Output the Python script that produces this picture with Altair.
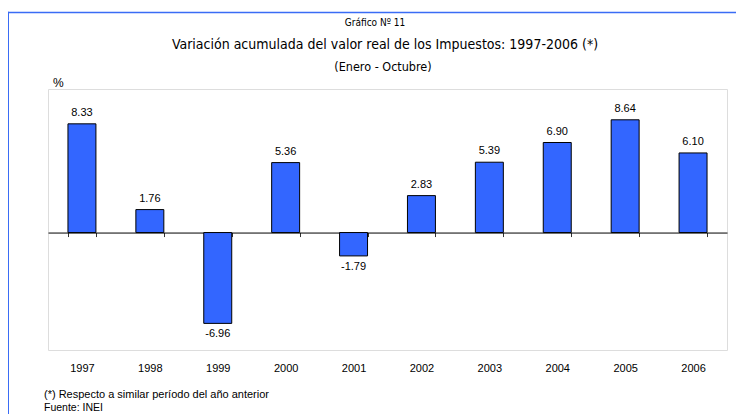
import altair as alt
import pandas as pd

years = ["1997", "1998", "1999", "2000", "2001", "2002", "2003", "2004", "2005", "2006"]
values = [8.33, 1.76, -6.96, 5.36, -1.79, 2.83, 5.39, 6.90, 8.64, 6.10]
labels = ["8.33", "1.76", "-6.96", "5.36", "-1.79", "2.83", "5.39", "6.90", "8.64", "6.10"]

title_top = "Gráfico Nº 11"
title_main = "Variación acumulada del valor real de los Impuestos: 1997-2006 (*)"
subtitle = "(Enero - Octubre)"
unit = "%"
note = "(*) Respecto a similar período del año anterior"
source = "Fuente: INEI"

W, H = 679, 261
Y_DOMAIN = [-9, 11]
FONT = "Liberation Sans, Arial, Helvetica, sans-serif"
NARROW = "DejaVu Sans Condensed, Arial Narrow, sans-serif"

df = pd.DataFrame({"year": years, "value": values, "label": labels})
zero_offset = -(0 - Y_DOMAIN[0]) / (Y_DOMAIN[1] - Y_DOMAIN[0]) * H

x = alt.X(
    "year:N",
    sort=years,
    scale=alt.Scale(paddingInner=0.588, paddingOuter=0.294),
    axis=alt.Axis(
        title=None, labelAngle=0, offset=zero_offset,
        domainColor="black", domainWidth=1,
        tickColor="#333333", tickSize=4, tickBand="extent",
        labelPadding=126, labelFont=FONT, labelFontSize=11, labelColor="black",
    ),
)
y = alt.Y("value:Q", scale=alt.Scale(domain=Y_DOMAIN, nice=False), axis=None)

base = alt.Chart(df)
bars = base.mark_bar(color="#3366ff", stroke="black", strokeWidth=1).encode(x=x, y=y)
pos = base.transform_filter("datum.value >= 0").mark_text(
    baseline="bottom", dy=-6, font=FONT, fontSize=11, color="black"
).encode(x=x, y=y, text="label:N")
neg = base.transform_filter("datum.value < 0").mark_text(
    baseline="top", dy=5, font=FONT, fontSize=11, color="black"
).encode(x=x, y=y, text="label:N")


def txt(s, px, py, size, font=FONT, align="center", weight="normal"):
    return alt.Chart(pd.DataFrame({"t": [s]})).mark_text(
        align=align, baseline="middle", font=font, fontSize=size,
        fontWeight=weight, color="black"
    ).encode(x=alt.value(px), y=alt.value(py), text="t:N")


frame_top = alt.Chart(pd.DataFrame({"a": [0]})).mark_rule(
    color="#3a6cf5", strokeWidth=1.6
).encode(x=alt.value(-40), x2=alt.value(W + 9), y=alt.value(-76.5))
frame_left = alt.Chart(pd.DataFrame({"a": [0]})).mark_rule(
    color="#3a6cf5", strokeWidth=1.6
).encode(x=alt.value(-39.8), y=alt.value(-77.3), y2=alt.value(H + 64))

chart = alt.layer(
    frame_top, frame_left,
    bars, pos, neg,
    txt(title_top, 327, -66.5, 10, font=NARROW),
    txt(title_main, 337, -44, 14, font=NARROW),
    txt(subtitle, 335, -22, 12.5, font=NARROW),
    txt(unit, 5, -6, 12, align="left"),
    txt(note, -4, 306, 11, align="left"),
    txt(source, -4, 319, 10.5, align="left"),
).properties(
    width=W, height=H,
    autosize=alt.AutoSizeParams(type="none"),
    padding={"left": 40, "top": 81, "right": 9, "bottom": 64},
).configure_view(
    stroke="#999999", strokeWidth=2
).configure(background="white")

chart.save("out.html", embed_options={"renderer": "svg", "actions": False})
